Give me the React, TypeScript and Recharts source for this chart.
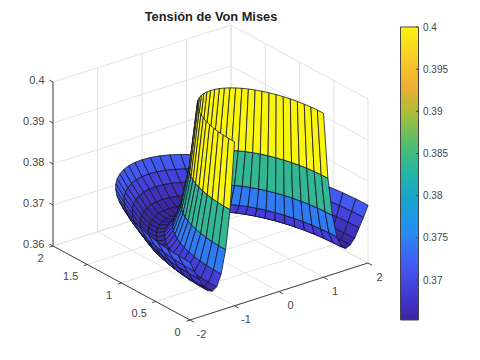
import { Bar, BarChart, Scatter, ScatterChart, XAxis, YAxis } from 'recharts'

const FONT = '"Liberation Sans", Arial, sans-serif'
const AXIS_COLOR = '#454545'
const GRID_COLOR = '#e2e2e2'

// surface: the stress only changes with the radius
const ringRadius = [1, 1.1, 1.2, 1.3, 1.4, 1.5, 1.6, 1.7, 1.8, 1.9, 2]
const ringStress = [0.4, 0.3838, 0.3744, 0.3688, 0.366, 0.3653, 0.3658, 0.3671, 0.3693, 0.3715, 0.3741]
const sweepDegrees = [
  0, 5, 10, 15, 20, 25, 30, 35, 40, 45, 50, 55, 60, 65, 70, 75, 80, 85, 90, 95, 100, 105, 110, 115, 120, 125, 130,
  135, 140, 145, 150, 155, 160, 165, 170, 175, 180,
]

const xTicks = [-2, -1, 0, 1, 2]
const yTicks = [0, 0.5, 1, 1.5, 2]
const zTicks = [0.36, 0.37, 0.38, 0.39, 0.4]
const zTickLabels = ['0.36', '0.37', '0.38', '0.39', '0.4']
const colorbarTicks = [0.37, 0.375, 0.38, 0.385, 0.39, 0.395, 0.4]
const colorbarLabels = ['0.37', '0.375', '0.38', '0.385', '0.39', '0.395', '0.4']
const COLOR_MIN = 0.36526
const COLOR_MAX = 0.4

const parulaOffsets = [0, 0.1, 0.2, 0.3, 0.4, 0.5, 0.6, 0.7, 0.8, 0.9, 1]
const parulaColors = [
  [58, 38, 160],
  [68, 60, 215],
  [65, 95, 245],
  [40, 140, 240],
  [25, 160, 210],
  [35, 180, 165],
  [80, 190, 110],
  [165, 190, 60],
  [240, 175, 50],
  [250, 205, 40],
  [250, 245, 15],
]

type Vec3 = [number, number, number]
type PlanePoint = { u: number; v: number }

// view of the plot box, in page pixels
function project([x, y, z]: Vec3): PlanePoint {
  const zRise = ((z - 0.36) / 0.04) * 164
  return {
    u: 190 + (x + 2) * 44.5 - y * 68.5,
    v: 320 - (x + 2) * 14.25 - y * 37 - zRise,
  }
}

function depth([x, y, z]: Vec3): number {
  return (x + 2) / 4 + (1.3 * y) / 2 - (0.934 * (z - 0.36)) / 0.04
}

function parula(value: number): string {
  const t = Math.min(1, Math.max(0, (value - COLOR_MIN) / (COLOR_MAX - COLOR_MIN)))
  let i = 0
  while (i < parulaOffsets.length - 2 && t > parulaOffsets[i + 1]) i++
  const f = (t - parulaOffsets[i]) / (parulaOffsets[i + 1] - parulaOffsets[i])
  const mixed = parulaColors[i].map((c, k) => Math.round(c + (parulaColors[i + 1][k] - c) * f))
  return `rgb(${mixed.join(',')})`
}

const rad = (deg: number) => (deg * Math.PI) / 180
const vertex3d = (a: number, r: number): Vec3 => [
  ringRadius[r] * Math.cos(rad(sweepDegrees[a])),
  ringRadius[r] * Math.sin(rad(sweepDegrees[a])),
  ringStress[r],
]

const surfaceData: PlanePoint[] = sweepDegrees.flatMap((_, a) => ringRadius.map((_r, r) => project(vertex3d(a, r))))

type Quad = { corners: number[]; fill: string; depth: number }
const quads: Quad[] = []
for (let a = 0; a < sweepDegrees.length - 1; a++) {
  for (let r = 0; r < ringRadius.length - 1; r++) {
    const ids: [number, number][] = [
      [a, r],
      [a + 1, r],
      [a + 1, r + 1],
      [a, r + 1],
    ]
    const d = ids.reduce((sum, [i, j]) => sum + depth(vertex3d(i, j)), 0) / 4
    quads.push({
      corners: ids.map(([i, j]) => i * ringRadius.length + j),
      fill: parula(ringStress[r]),
      depth: d,
    })
  }
}
quads.sort((p, q) => q.depth - p.depth)

function segments(list: [Vec3, Vec3][]): PlanePoint[] {
  return list.flatMap(([p, q]) => [project(p), project(q)])
}

const gridData = segments([
  ...xTicks.flatMap((x): [Vec3, Vec3][] => [
    [[x, 0, 0.36], [x, 2, 0.36]],
    [[x, 2, 0.36], [x, 2, 0.4]],
  ]),
  ...yTicks.flatMap((y): [Vec3, Vec3][] => [
    [[-2, y, 0.36], [2, y, 0.36]],
    [[2, y, 0.36], [2, y, 0.4]],
  ]),
  ...zTicks.flatMap((z): [Vec3, Vec3][] => [
    [[-2, 2, z], [2, 2, z]],
    [[2, 2, z], [2, 0, z]],
  ]),
])

const axisData = segments([
  [[-2, 0, 0.36], [2, 0, 0.36]],
  [[-2, 0, 0.36], [-2, 2, 0.36]],
  [[-2, 2, 0.36], [-2, 2, 0.4]],
  ...xTicks.map((x): [Vec3, Vec3] => [[x, 0, 0.36], [x, -0.06, 0.36]]),
  ...yTicks.map((y): [Vec3, Vec3] => [[-2, y, 0.36], [-2.08, y, 0.36]]),
  ...zTicks.map((z): [Vec3, Vec3] => [[-2, 2, z], [-2, 2.05, z]]),
])

type TickLabel = PlanePoint & { text: string; dx: number; dy: number; anchor: string }
const tickLabels: TickLabel[] = [
  ...xTicks.map((x) => ({ ...project([x, 0, 0.36]), text: String(x), dx: 11.5, dy: 17.5, anchor: 'middle' })),
  ...yTicks.map((y) => ({
    ...project([-2, y, 0.36]),
    text: String(y),
    dx: Number.isInteger(y) ? -12.5 : -16.5,
    dy: 15.5,
    anchor: 'middle',
  })),
  ...zTicks.map((z, i) => ({ ...project([-2, 2, z]), text: zTickLabels[i], dx: -8.5, dy: 2, anchor: 'end' })),
]
const titleData = [{ u: 211, v: 20.5 }]

const colorbarData = [{ name: 'stress', range: [COLOR_MIN, COLOR_MAX] }]

const noDot = () => <g />

function renderSegments(stroke: string, width: number) {
  return (props: { points?: { x: number; y: number }[] }) => {
    const pts = props.points ?? []
    const d = pts.map((p, i) => `${i % 2 === 0 ? 'M' : 'L'}${p.x} ${p.y}`).join('')
    return <path d={d} stroke={stroke} strokeWidth={width} fill="none" />
  }
}

function renderMesh(props: { points?: { x: number; y: number }[] }) {
  const pts = props.points ?? []
  if (pts.length === 0) return <g />
  return (
    <g>
      {quads.map((q, i) => (
        <polygon
          key={i}
          points={q.corners.map((c) => `${pts[c].x},${pts[c].y}`).join(' ')}
          fill={q.fill}
          stroke="#15152a"
          strokeWidth={0.8}
          strokeLinejoin="round"
        />
      ))}
    </g>
  )
}

function TickText(props: { cx?: number; cy?: number; payload?: TickLabel }) {
  const { cx = 0, cy = 0, payload } = props
  if (!payload) return <g />
  return (
    <text
      x={cx + payload.dx}
      y={cy + payload.dy}
      textAnchor={payload.anchor as 'middle' | 'end'}
      fontFamily={FONT}
      fontSize={11}
      fill={AXIS_COLOR}
    >
      {payload.text}
    </text>
  )
}

function TitleText(props: { cx?: number; cy?: number }) {
  return (
    <text x={props.cx} y={props.cy} textAnchor="middle" fontFamily={FONT} fontSize={12.8} fontWeight="bold" fill="#222">
      Tensión de Von Mises
    </text>
  )
}

function ColorbarTick(props: { x?: number; y?: number; index?: number }) {
  const { x = 0, y = 0, index = 0 } = props
  return (
    <g>
      <line x1={x - 2} x2={x} y1={y} y2={y} stroke={AXIS_COLOR} strokeWidth={1} />
      <text x={x + 5} y={y + 3.5} fontFamily={FONT} fontSize={10} fill={AXIS_COLOR}>
        {colorbarLabels[index]}
      </text>
    </g>
  )
}

export default function App() {
  return (
    <div style={{ position: 'absolute', left: 0, top: 0, width: 480, height: 360, background: '#fff' }}>
      <div style={{ position: 'absolute', left: 0, top: 0 }}>
        <ScatterChart width={395} height={360} margin={{ top: 0, right: 0, bottom: 0, left: 0 }}>
          <XAxis type="number" dataKey="u" domain={[0, 395]} hide />
          <YAxis type="number" dataKey="v" domain={[0, 360]} reversed hide />
          <Scatter data={gridData} line={renderSegments(GRID_COLOR, 1)} shape={noDot} isAnimationActive={false} />
          <Scatter data={axisData} line={renderSegments(AXIS_COLOR, 1)} shape={noDot} isAnimationActive={false} />
          <Scatter data={surfaceData} line={renderMesh} shape={noDot} isAnimationActive={false} />
          <Scatter data={tickLabels} shape={TickText} isAnimationActive={false} />
          <Scatter data={titleData} shape={TitleText} isAnimationActive={false} />
        </ScatterChart>
      </div>
      <div style={{ position: 'absolute', left: 395, top: 0 }}>
        <BarChart
          width={85}
          height={360}
          data={colorbarData}
          barCategoryGap={0}
          margin={{ top: 27, right: 0, bottom: 40, left: 5.5 }}
        >
          <defs>
            <linearGradient id="parulaBar" x1="0" y1="1" x2="0" y2="0">
              {parulaOffsets.map((offset, i) => (
                <stop key={offset} offset={offset} stopColor={`rgb(${parulaColors[i].join(',')})`} />
              ))}
            </linearGradient>
          </defs>
          <XAxis dataKey="name" hide />
          <YAxis
            orientation="right"
            type="number"
            width={62}
            domain={[COLOR_MIN, COLOR_MAX]}
            ticks={colorbarTicks}
            interval={0}
            axisLine={false}
            tickLine={false}
            tickSize={0}
            tickMargin={0}
            tick={ColorbarTick}
          />
          <Bar dataKey="range" fill="url(#parulaBar)" stroke={AXIS_COLOR} strokeWidth={1} isAnimationActive={false} />
        </BarChart>
      </div>
    </div>
  )
}
